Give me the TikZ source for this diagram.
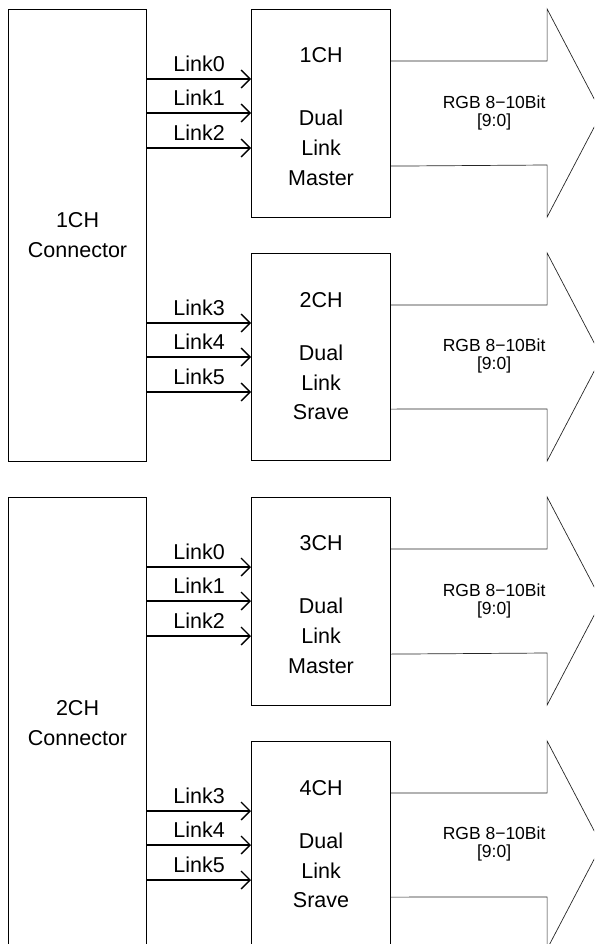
\documentclass[tikz,border=0pt]{standalone}
\usepackage{fontspec}
\setmainfont{Liberation Sans}
\usetikzlibrary{arrows.meta,calc}
\begin{document}
\begin{tikzpicture}[x=1pt,y=-1pt,
  box/.style={draw=black,line width=1.1pt,inner sep=0pt,align=center,anchor=north west,
    font=\fontsize{21.5}{30}\selectfont},
  boxtext/.style={inner sep=0pt,align=center,font=\fontsize{21.5}{30}\selectfont},
  link/.style={line width=1.3pt,-{Straight Barb[length=9pt,width=18pt,line width=1.3pt]}},
  lbl/.style={midway,above=7pt,inner sep=0pt,font=\fontsize{21.5}{24}\selectfont},
  fat/.style={draw=black!85,line width=0.7pt},
  rgb/.style={align=center,inner sep=0pt,font=\fontsize{17.5}{18}\selectfont}]
\useasboundingbox (0,0) rectangle (594,944);
\clip (0,0) rectangle (594,944);
\foreach \g/\oy/\cN/\mA/\sV in {1/0/1CH/1CH/2CH,2/488/2CH/3CH/4CH}{
  \begin{scope}[shift={(0,\oy)}]
    \node[box,minimum width=138pt,minimum height=452pt] (c\g) at (8,9) {\cN\\Connector};
    \node[box,minimum width=139pt,minimum height=208pt] (m\g) at (251,9) {};
    \node[boxtext] (mt\g) at ($(m\g.center)+(0,3.5)$) {\mA\\[33pt]Dual\\Link\\Master};
    \node[box,minimum width=139pt,minimum height=207pt] (s\g) at (251,253) {};
    \node[boxtext,font=\fontsize{21.5}{29.5}\selectfont] (st\g) at ($(s\g.center)+(0,-1)$) {\sV\\[24pt]Dual\\Link\\Srave};
    \foreach \b/\n in {m/0,s/3}{
      \foreach \d [count=\k from 0] in {70,104,139}{
        \coordinate (\b\g-\k) at ($(\b\g.north west)+(0,\d)$);
        \pgfmathtruncatemacro\lab{\n+\k}
        \draw[link] (c\g.east |- \b\g-\k) -- node[lbl]{Link\lab} (\b\g-\k);
      }
      \draw[fat] ($(\b\g.north east)+(0,52)$) -- ++(156,0) -- ++(0,-52) -- ++(54.5,104)
        -- ++(-54.5,104) -- ++(0,-52) -- ($(\b\g.south east)+(0,-52)$);
      \node[rgb] (r\b\g) at ($(\b\g.east)+(103,-1)$) {RGB 8−10Bit\\{[9:0]}};
    }
  \end{scope}
}
\end{tikzpicture}
\end{document}
